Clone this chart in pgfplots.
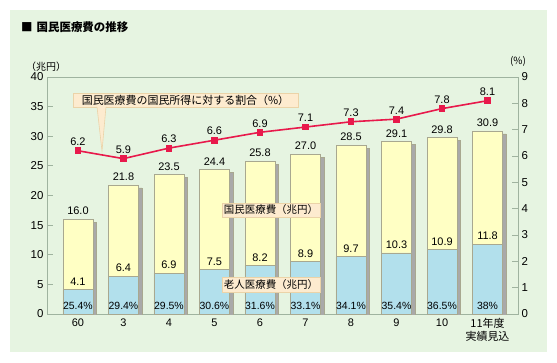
\documentclass[border=0pt]{standalone}
\usepackage{fontspec}
\setmainfont{Liberation Sans}
\newfontfamily\cjk{Noto Sans CJK JP}
\usepackage{pgfplots}
\pgfplotsset{compat=1.18}
\definecolor{bgg}{HTML}{E6F4E1}
\definecolor{barY}{HTML}{FFFFC4}
\definecolor{barB}{HTML}{B2E0EC}
\definecolor{edgeC}{HTML}{A8A890}
\definecolor{lineR}{HTML}{E8194B}
\definecolor{axC}{HTML}{9FB39F}
\definecolor{callF}{HTML}{FDEBCF}
\definecolor{callE}{HTML}{EBD3A8}
\definecolor{shadowC}{HTML}{A9A9A9}
\newcommand{\fs}[1]{\fontsize{#1}{#1}\selectfont}
\begin{document}
\begin{tikzpicture}[x=1bp,y=1bp]
\fill[white] (0,0) rectangle (557,362);
\fill[bgg] (10,10) rectangle (547,352);
\begin{axis}[at={(47bp,48bp)}, anchor=south west, scale only axis,
  width=471bp, height=237bp,
  xmin=-0.68, xmax=9.67, ymin=0, ymax=40,
  ytick={0,5,...,40}, ytick pos=left,
  xtick={0,...,9},
  xticklabels={60,3,4,5,6,7,8,9,10,{\cjk 11年度}\\{\cjk 実績見込}},
  xticklabel style={align=center, anchor=north, font=\fontsize{11}{13}\selectfont, yshift=-1bp},
  major x tick style={draw=none},
  yticklabel style={font=\fs{11.5}},
  /pgf/number format/assume math mode=true,
  axis line style={axC, line width=0.8bp},
  major tick style={axC, line width=0.8bp},
  major tick length=6bp,
  tick align=inside,
  clip=true,
  every node near coord/.append style={font=\fs{11}, black},
]
\addplot[ybar, bar width=30bp, bar shift=0pt, fill=barY, draw=edgeC, line width=0.6bp,
  preaction={fill=shadowC, transform canvas={xshift=3.5bp, yshift=-3bp}},
  nodes near coords, point meta=explicit symbolic,
  nodes near coords style={anchor=south, yshift=0.5bp}]
  coordinates {(0,16.0)[16.0] (1,21.8)[21.8] (2,23.5)[23.5] (3,24.4)[24.4] (4,25.8)[25.8]
               (5,27.0)[27.0] (6,28.5)[28.5] (7,29.1)[29.1] (8,29.8)[29.8] (9,30.9)[30.9]};
\addplot[ybar, bar width=30bp, bar shift=0pt, fill=barB, draw=edgeC, line width=0.6bp,
  nodes near coords, point meta=explicit symbolic,
  nodes near coords style={anchor=south, yshift=0.5bp}]
  coordinates {(0,4.1)[4.1] (1,6.4)[6.4] (2,6.9)[6.9] (3,7.5)[7.5] (4,8.2)[8.2]
               (5,8.9)[8.9] (6,9.7)[9.7] (7,10.3)[10.3] (8,10.9)[10.9] (9,11.8)[11.8]};
\addplot[draw=none, mark=none, nodes near coords, point meta=explicit symbolic,
  nodes near coords style={anchor=center, font=\fs{10.5}}]
  coordinates {(0,1.35)[25.4\%] (1,1.35)[29.4\%] (2,1.35)[29.5\%] (3,1.35)[30.6\%] (4,1.35)[31.6\%]
               (5,1.35)[33.1\%] (6,1.35)[34.1\%] (7,1.35)[35.4\%] (8,1.35)[36.5\%] (9,1.35)[38\%]};
\end{axis}
\begin{axis}[at={(47bp,48bp)}, anchor=south west, scale only axis,
  width=471bp, height=237bp,
  xmin=-0.68, xmax=9.67, ymin=0, ymax=9,
  axis x line=none, axis y line*=right,
  ytick={0,...,9},
  yticklabel style={font=\fs{11.5}},
  /pgf/number format/assume math mode=true,
  axis line style={axC, line width=0.8bp},
  major tick style={axC, line width=0.8bp},
  major tick length=6bp,
  tick align=inside,
  every node near coord/.append style={font=\fs{11}, black},
]
\addplot[lineR, line width=1.6bp, mark=square*, mark size=2.6bp,
  nodes near coords, nodes near coords style={anchor=south, yshift=1bp},
  point meta=explicit symbolic]
  coordinates {(0,6.2)[6.2] (1,5.9)[5.9] (2,6.3)[6.3] (3,6.6)[6.6] (4,6.9)[6.9]
               (5,7.1)[7.1] (6,7.3)[7.3] (7,7.4)[7.4] (8,7.8)[7.8] (9,8.1)[8.1]};
\end{axis}
% titles and units
\node[anchor=west, inner sep=0] at (21,335) {\cjk\bfseries\fs{11.5}■\hspace{4bp}国民医療費の推移};
\node[anchor=west, inner sep=0] at (26,295) {\cjk\fs{10}（兆円）};
\node[inner sep=0] at (518,301) {\cjk\fs{10}(\%)};
% callouts
\filldraw[fill=callF, draw=callE, line width=0.6bp] (73,255) rectangle (298,269);
\filldraw[fill=callF, draw=callE, line width=0.6bp] (97,255.3) -- (102,211) -- (106,255.3);
\fill[callF] (97.4,254.6) rectangle (105.6,255.6);
\node[inner sep=0] at (185.5,262) {\cjk\fs{11}国民医療費の国民所得に対する割合（\%）};
\filldraw[fill=callF, draw=callE, line width=0.6bp] (222,145) rectangle (320,159);
\node[inner sep=0] at (271,152) {\cjk\fs{10.5}国民医療費（兆円）};
\filldraw[fill=callF, draw=callE, line width=0.6bp] (222,70) rectangle (320,85);
\node[inner sep=0] at (271,77.5) {\cjk\fs{10.5}老人医療費（兆円）};
\end{tikzpicture}
\end{document}
